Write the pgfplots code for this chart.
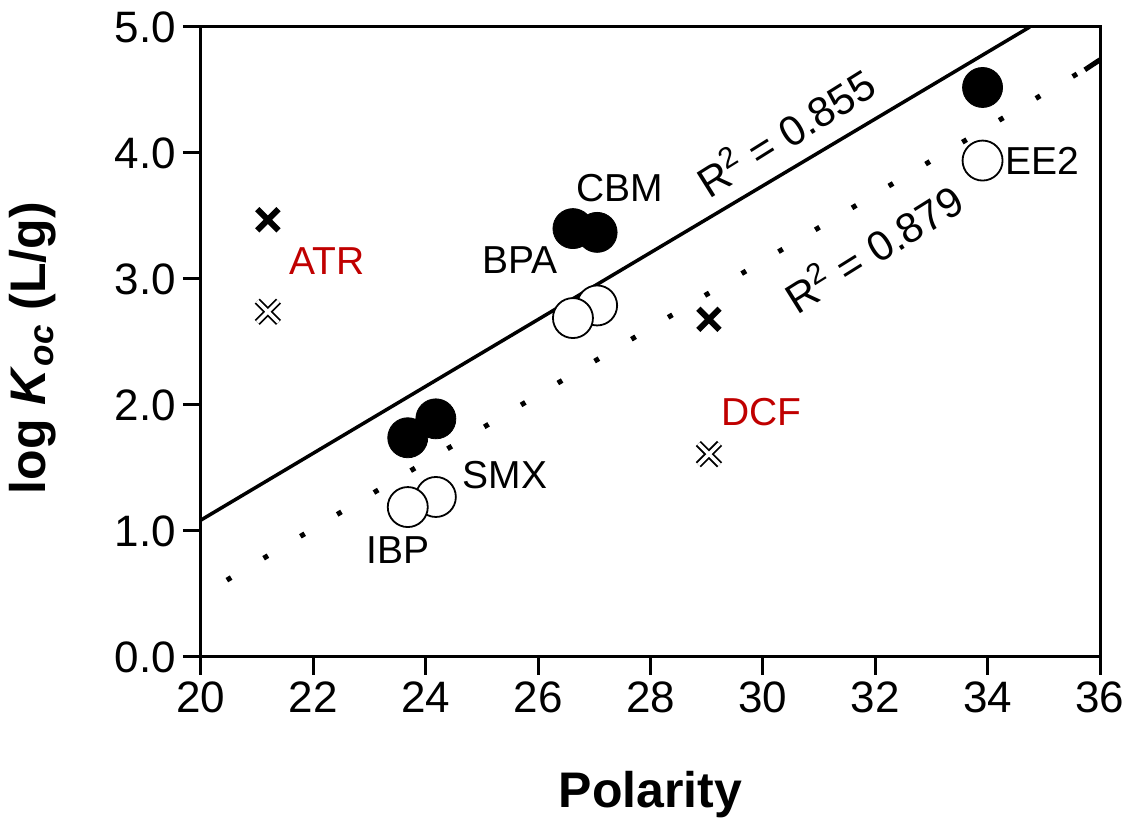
\documentclass[border=0pt]{standalone}
\usepackage{fontspec}
\setmainfont{Liberation Sans}
\usepackage{pgfplots}
\pgfplotsset{compat=1.18}
\definecolor{labred}{RGB}{192,0,0}
\begin{document}
\begin{tikzpicture}
\begin{axis}[
  scale only axis,
  width=449.5pt, height=315pt,
  xmin=20, xmax=36, ymin=0, ymax=5,
  xtick={20,22,...,36}, ytick={0,1,...,5},
  tick align=outside, tick pos=left,
  major tick length=9pt,
  axis line style={line width=1.5pt},
  every tick/.style={black, line width=1.5pt},
  /pgf/number format/assume math mode=true,
  yticklabel style={/pgf/number format/.cd, fixed, fixed zerofill, precision=1},
  ticklabel style={font=\fontsize{22}{26}\selectfont},
  xlabel={Polarity},
  ylabel={log \textit{K}\textsubscript{\textit{oc}} (L/g)},
  label style={font=\bfseries\fontsize{25}{30}\selectfont},
  xlabel style={at={(rel axis cs:0.5,0)}, anchor=center, yshift=-69pt},
  ylabel style={at={([xshift=-84pt]rel axis cs:0,0.49)}, anchor=center},
  clip=false,
]
\coordinate (sw) at (rel axis cs:0,0);
\coordinate (ne) at (rel axis cs:1,1);
% regression lines
\addplot[black, line width=1.75pt] coordinates {(20,1.087) (34.75,5.0)};
\addplot[black, line width=2.5pt, line cap=butt, dash pattern=on 2.5pt off 18.9pt] coordinates {(20.46,0.61) (35.6,4.63)};
\addplot[black, line width=2.5pt, line cap=butt] coordinates {(35.73,4.66) (36,4.74)};
% filled circles
\addplot[only marks, mark=*, mark size=10pt, black] coordinates {(33.91,4.52) (27.05,3.37) (26.62,3.40) (24.18,1.89) (23.68,1.74)};
% open circles
\addplot[only marks, mark=*, mark size=10pt, mark options={fill=white, draw=black, line width=0.9pt}] coordinates {(33.91,3.94) (27.05,2.79) (26.62,2.69) (24.18,1.27) (23.68,1.19)};
% crosses
\addplot[only marks, mark=x, mark size=7.5pt, mark options={black, line width=3pt}] coordinates {(21.19,3.47) (29.04,2.68)};
\addplot[only marks, mark=x, mark size=7.5pt, mark options={black, line width=3.6pt}] coordinates {(21.19,2.74) (29.04,1.61)};
\addplot[only marks, mark=x, mark size=7.5pt, mark options={white, line width=1.8pt}] coordinates {(21.19,2.74) (29.04,1.61)};
% labels
\begin{scope}[every node/.style={font=\fontsize{19.5}{23}\selectfont, inner sep=0pt}]
\node at (axis cs:27.46,3.72) {CBM};
\node at (axis cs:25.68,3.15) {BPA};
\node at (axis cs:25.41,1.44) {SMX};
\node at (axis cs:23.5,0.85) {IBP};
\node at (axis cs:34.98,3.94) {EE2};
\node[text=labred] at (axis cs:22.24,3.14) {ATR};
\node[text=labred] at (axis cs:29.98,1.94) {DCF};
\node[rotate=32, font=\fontsize{21}{25}\selectfont] at (axis cs:30.39,4.17) {R\textsuperscript{2} = 0.855};
\node[rotate=32, font=\fontsize{21}{25}\selectfont] at (axis cs:31.96,3.25) {R\textsuperscript{2} = 0.879};
\end{scope}
\end{axis}
\pgfresetboundingbox
\path ([shift={(-100.5pt,-85.5pt)}]sw) rectangle ([shift={(15.5pt,13.5pt)}]ne);
\end{tikzpicture}
\end{document}
